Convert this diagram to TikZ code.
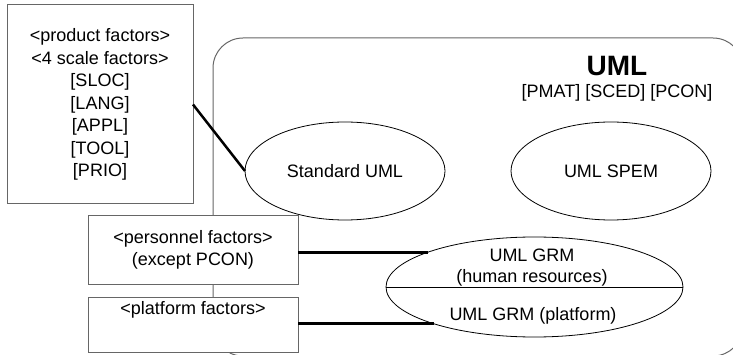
\documentclass[tikz,border=0pt]{standalone}
\usepackage{fontspec}
\setmainfont{Liberation Sans}
\usetikzlibrary{shapes.geometric}
\begin{document}
\begin{tikzpicture}[x=1pt,y=-1pt,
  every node/.style={font=\fontsize{18}{22.5}\selectfont, inner sep=0pt, outer sep=0pt},
  factorbox/.style={draw=black!60, line width=1pt, fill=white, rectangle, align=center},
  usecase/.style={draw=black, line width=0.8pt, ellipse},
  link/.style={line width=2.5pt, black},
  frame/.style={draw=black!60, line width=1pt, rounded corners=30pt}]
\useasboundingbox (0,0) rectangle (733,355);
\clip (0,0) rectangle (733,355);

% package frame
\draw[frame] (213,38) rectangle (743,356);
\node[font=\fontsize{28}{32}\selectfont\bfseries] (umltitle) at (617,66) {UML};
\node (umlfactors) at (617,93) {[PMAT] [SCED] [PCON]};

% use cases inside the package
\node[usecase, minimum width=200pt, minimum height=98pt] (std) at (345,171) {Standard UML};
\node[usecase, minimum width=200pt, minimum height=98pt] (spem) at (611,171) {UML SPEM};
\node[usecase, minimum width=297pt, minimum height=100pt] (grm) at (534.5,287) {};
\draw[black, line width=0.8pt] (grm.west) -- (grm.east);
\node (grmhr1) at (532,255) {UML GRM};
\node (grmhr2) at (532,278) {(human resources)};
\node (grmpf) at (533,316) {UML GRM (platform)};

% factor boxes
\node[factorbox, minimum width=186pt, minimum height=199pt] (prod) at (100,104.5)
  {<product factors>\\{}<4 scale factors>\\{}[SLOC]\\{}[LANG]\\{}[APPL]\\{}[TOOL]\\{}[PRIO]};
\node[factorbox, minimum width=210pt, minimum height=68pt] (pers) at (193,250)
  {<personnel factors>\\{}(except PCON)};
\node[factorbox, minimum width=210pt, minimum height=55pt] (plat) at (193,324.5) {};
\node (platlbl) at ([yshift=-13pt]plat.north) {<platform factors>};

% connectors
\draw[link] (prod.east) -- (std.west);
\draw[link] (pers.east |- grm.162.6) -- (grm.162.6);
\draw[link] (plat.east |- grm.200.2) -- (grm.200.2);
\end{tikzpicture}
\end{document}
